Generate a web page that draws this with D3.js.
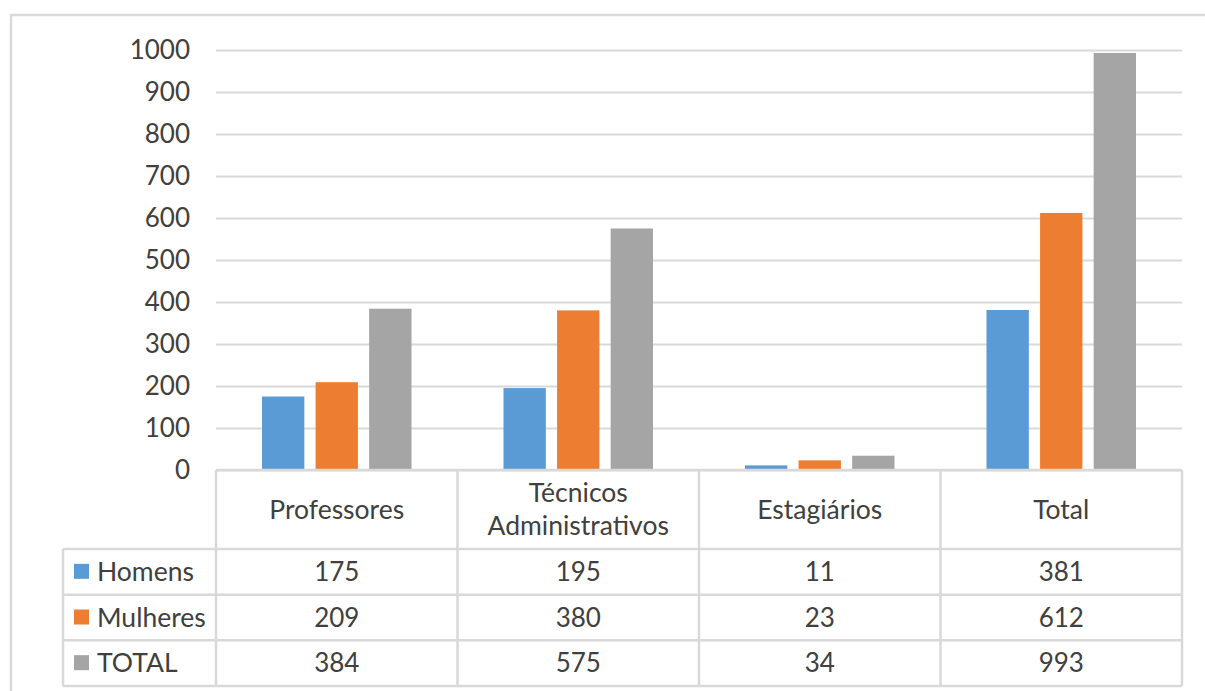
<!DOCTYPE html>
<html><head><meta charset="utf-8">
<script src="https://cdn.jsdelivr.net/npm/d3@7"></script>
<style>
html,body{margin:0;padding:0;background:#fff;}
svg text{font-family:Lato, "Open Sans", sans-serif;fill:#404040;}
</style></head>
<body>
<script>
const categories = ["Professores", "Técnicos Administrativos", "Estagiários", "Total"];
const seriesNames = ["Homens", "Mulheres", "TOTAL"];
const homens = [175, 195, 11, 381];
const mulheres = [209, 380, 23, 612];
const total = [384, 575, 34, 993];
const seriesValues = [homens, mulheres, total];
const colors = ["#5b9bd5", "#ed7d31", "#a5a5a5"];
const yTicks = [0,100,200,300,400,500,600,700,800,900,1000];

const W = 1205, H = 691;
const svg = d3.select("body").append("svg").attr("width", W).attr("height", H);
const fs = 26;
const fsWords = 26.5;
const grid = "#d9d9d9";

// outer frame
svg.append("path").attr("d", `M11,${H+5} V15 H${W+5}`).attr("fill","none").attr("stroke",grid).attr("stroke-width",2.5);

const plotL = 216, plotR = 1182, plotT = 50, plotB = 470;
const x0 = d3.scaleBand().domain(categories).range([plotL, plotR]).paddingInner(0).paddingOuter(0);
const x1 = d3.scaleBand().domain(seriesNames).range([46, x0.bandwidth()-46]).paddingInner(0.21).paddingOuter(0);
const y = d3.scaleLinear().domain([0, 1000]).range([plotB, plotT]);

// gridlines + labels via axis
const yAxis = d3.axisLeft(y).tickValues(yTicks).tickSize(-(plotR-plotL)).tickPadding(26).tickFormat(d3.format("d"));
const gy = svg.append("g").attr("transform", `translate(${plotL},0)`).call(yAxis);
gy.select(".domain").remove();
gy.selectAll(".tick line").attr("stroke", grid).attr("stroke-width", 2);
gy.selectAll(".tick text").attr("font-size", fs).attr("fill","#404040").attr("font-family","Lato, sans-serif");

// bars
const gBars = svg.append("g");
categories.forEach((c, ci) => {
  seriesNames.forEach((s, si) => {
    const v = seriesValues[si][ci];
    gBars.append("rect")
      .attr("x", x0(c) + x1(s))
      .attr("y", y(v))
      .attr("width", x1.bandwidth())
      .attr("height", y(0) - y(v))
      .attr("fill", colors[si]);
  });
});

// data table
const headerB = 549;
const rowH = (686 - headerB) / 3;
const legendL = 63;
const tbl = svg.append("g");
const line = (x1_, y1_, x2_, y2_) => tbl.append("line").attr("x1",x1_).attr("y1",y1_).attr("x2",x2_).attr("y2",y2_).attr("stroke",grid).attr("stroke-width",2.5);
line(plotL, plotB, plotR, plotB);
categories.forEach(c => line(x0(c), plotB, x0(c), 686));
line(plotR, plotB, plotR, 686);
line(legendL, headerB, legendL, 686);
for (let r = 0; r <= 3; r++) line(legendL, headerB + r*rowH, plotR, headerB + r*rowH);

// header labels with wrapping
categories.forEach(c => {
  const cx = x0(c) + x0.bandwidth()/2;
  const t = tbl.append("text").attr("x", cx).attr("text-anchor","middle").attr("font-size", fsWords).text(c);
  const w = t.node().getComputedTextLength();
  if (w > x0.bandwidth() - 10) {
    const words = c.split(" ");
    t.text(null);
    const lh = 33;
    const midY = (plotB + headerB)/2;
    words.forEach((wd, i) => {
      t.append("tspan").attr("x", cx).attr("y", midY + (i - (words.length-1)/2)*lh).attr("dy","0.35em").text(wd);
    });
  } else {
    t.attr("y", (plotB + headerB)/2).attr("dy","0.35em");
  }
});

// rows
seriesNames.forEach((s, si) => {
  const cy = headerB + si*rowH + rowH/2;
  tbl.append("rect").attr("x", 74).attr("y", cy - 8).attr("width", 15).attr("height", 15).attr("fill", colors[si]);
  tbl.append("text").attr("x", 97).attr("y", cy).attr("dy","0.35em").attr("font-size", fsWords).text(s);
  categories.forEach((c, ci) => {
    tbl.append("text").attr("x", x0(c) + x0.bandwidth()/2).attr("y", cy).attr("dy","0.35em")
      .attr("text-anchor","middle").attr("font-size", fs).text(seriesValues[si][ci]);
  });
});
</script>
</body></html>
